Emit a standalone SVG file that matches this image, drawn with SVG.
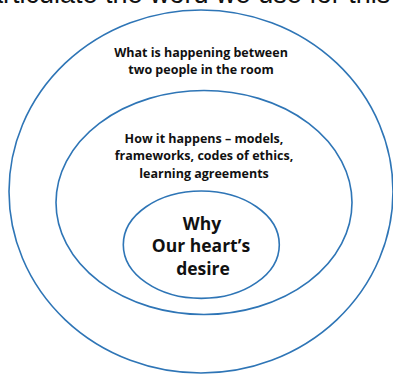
<svg xmlns="http://www.w3.org/2000/svg" width="393" height="374" viewBox="0 0 393 374">
  <style>
    .ring { fill: none; stroke: #2e75b6; stroke-width: 1.6; }
    .lbl { font-family: "Open Sans", "Liberation Sans", sans-serif; font-weight: 700; fill: #111; text-anchor: middle; }
    .sm { font-size: 12.5px; }
    .lg { font-size: 17.5px; }
    .head { font-family: "Liberation Sans", Arial, sans-serif; font-size: 27px; fill: #111; }
  </style>
  <rect width="393" height="374" fill="#ffffff"/>
  <!-- heading line running off the top edge -->
  <text class="head" x="-12" y="3">articulate the word we use for this r</text>

  <g id="outer">
    <ellipse class="ring" cx="201" cy="191.5" rx="192" ry="181.5"/>
    <text class="lbl sm" x="201" y="57">What is happening between</text>
    <text class="lbl sm" x="201" y="74">two people in the room</text>
  </g>

  <g id="middle">
    <ellipse class="ring" cx="204" cy="202.5" rx="148" ry="112"/>
    <text class="lbl sm" x="204" y="143">How it happens – models,</text>
    <text class="lbl sm" x="204" y="160">frameworks, codes of ethics,</text>
    <text class="lbl sm" x="204" y="177.5">learning agreements</text>
  </g>

  <g id="inner">
    <ellipse class="ring" cx="201.3" cy="244.7" rx="78" ry="53.7"/>
    <text class="lbl lg" x="202" y="229.5">Why</text>
    <text class="lbl lg" x="201" y="252">Our heart’s</text>
    <text class="lbl lg" x="203" y="274.5">desire</text>
  </g>

  <g id="connectors"/>
</svg>
